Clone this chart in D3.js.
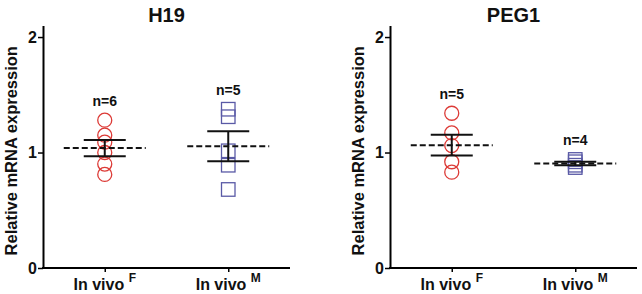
<!DOCTYPE html>
<html>
<head>
<meta charset="utf-8">
<script src="https://cdn.jsdelivr.net/npm/d3@7"></script>
<style>
  body { margin: 0; background: #fff; }
  text { font-family: "Liberation Sans", Arial, sans-serif; font-weight: bold; fill: #111; }
</style>
</head>
<body>
<svg id="chart" width="642" height="294"></svg>
<script>
// values
const genes = ['H19', 'PEG1'];
const groups = ['F', 'M'];           // superscripts after "In vivo"
const h19F = [1.28, 1.15, 1.09, 1.00, 0.90, 0.81];
const h19M = [1.375, 1.31, 1.015, 0.89, 0.68];
const peg1F = [1.34, 1.17, 1.06, 0.92, 0.83];
const peg1M = [0.94, 0.92, 0.89, 0.87];
const yTicks = [0, 1, 2];

const series = {H19: [h19F, h19M], PEG1: [peg1F, peg1M]};

const svg = d3.select('svg#chart');
const red = '#dc3a36', blue = '#5a5aa6';

const panels = [
  {gene: 'H19', x0: 43},
  {gene: 'PEG1', x0: 390}
];
const plotW = 247;

const y = d3.scaleLinear().domain([0, 2.1]).range([268, 25.5]);

const sem = v => d3.deviation(v) / Math.sqrt(v.length);

panels.forEach(p => {
  const g = svg.append('g');
  const x = d3.scalePoint().domain(groups).range([p.x0, p.x0 + plotW]).padding(0.5);

  // y axis
  const ya = g.append('g').attr('transform', `translate(${p.x0},0)`)
    .call(d3.axisLeft(y).tickValues(yTicks).tickFormat(d3.format('d')).tickSize(5).tickSizeOuter(0));
  ya.select('.domain').attr('stroke-width', 2);
  ya.selectAll('.tick line').attr('stroke-width', 1.5);
  ya.selectAll('.tick text').attr('font-size', 16).attr('x', -6).attr('fill', '#111');

  // x axis
  const xa = g.append('g').attr('transform', `translate(0,${y(0)})`)
    .call(d3.axisBottom(x).tickSize(4).tickSizeOuter(0).tickFormat(''));
  xa.select('.domain').attr('stroke-width', 2).attr('d', `M${p.x0 - 1},0H${p.x0 + plotW}`);
  xa.selectAll('.tick line').attr('stroke-width', 1.5);

  groups.forEach(gr => {
    const t = g.append('text').attr('x', x(gr)).attr('y', 290)
      .attr('text-anchor', 'middle').attr('font-size', 16);
    t.append('tspan').text('In vivo ');
    t.append('tspan').text(gr).attr('font-size', 12).attr('dy', -8);
  });

  // title
  g.append('text').attr('x', p.x0 + plotW / 2).attr('y', 22)
    .attr('text-anchor', 'middle').attr('font-size', 20).text(p.gene);

  // y label
  g.append('text')
    .attr('transform', `translate(${p.x0 - 26},${(y(0) + y(2.1)) / 2 + 4}) rotate(-90)`)
    .attr('text-anchor', 'middle').attr('font-size', 16.5).text('Relative mRNA expression');

  const [fVals, mVals] = series[p.gene];

  // circles (F)
  g.selectAll('circle.pt').data(fVals).join('circle')
    .attr('cx', x('F')).attr('cy', d => y(d)).attr('r', 7)
    .attr('fill', 'none').attr('stroke', red).attr('stroke-width', 1.3);

  // squares (M)
  const s = 13.5;
  g.selectAll('rect.pt').data(mVals).join('rect')
    .attr('x', x('M') - s / 2).attr('y', d => y(d) - s / 2)
    .attr('width', s).attr('height', s)
    .attr('fill', 'none').attr('stroke', blue).attr('stroke-width', 1.3);

  [['F', fVals], ['M', mVals]].forEach(([gr, v]) => {
    const cx = x(gr), m = d3.mean(v), e = sem(v);
    // mean
    g.append('line').attr('x1', cx - 41).attr('x2', cx + 41)
      .attr('y1', y(m)).attr('y2', y(m))
      .attr('stroke', '#111').attr('stroke-width', 2).attr('stroke-dasharray', '6,3');
    // sem
    g.append('line').attr('x1', cx).attr('x2', cx).attr('y1', y(m + e)).attr('y2', y(m - e))
      .attr('stroke', '#111').attr('stroke-width', 2);
    [m + e, m - e].forEach(v2 => {
      g.append('line').attr('x1', cx - 21).attr('x2', cx + 21)
        .attr('y1', y(v2)).attr('y2', y(v2))
        .attr('stroke', '#111').attr('stroke-width', 2);
    });
    // n label
    g.append('text').attr('x', cx).attr('y', y(d3.max(v)) - 14)
      .attr('text-anchor', 'middle').attr('font-size', 14).text('n=' + v.length);
  });
});
</script>
</body>
</html>
